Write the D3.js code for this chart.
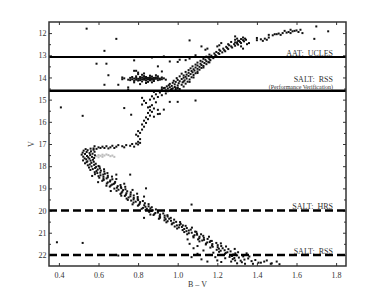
<!DOCTYPE html>
<html>
<head>
<meta charset="utf-8">
<script src="https://cdn.jsdelivr.net/npm/d3@7/dist/d3.min.js"></script>
<style>
  html, body { margin: 0; padding: 0; background: #fff; }
  svg { display: block; }
  text { font-family: "Liberation Serif", "Times New Roman", serif; fill: #333; }
</style>
</head>
<body>
<svg id="chart" width="382" height="300"></svg>
<script>
// ---------- data ----------
const xTicks = [0.4, 0.6, 0.8, 1.0, 1.2, 1.4, 1.6, 1.8];
const yTicks = [12, 13, 14, 15, 16, 17, 18, 19, 20, 21, 22];
const yMinorTicks = [12.5, 13.5, 14.5, 15.5, 16.5, 17.5, 18.5, 19.5, 20.5, 21.5];

const solidLimits = [13.08, 14.6];
const dashedLimits = [20.0, 22.0];

const limitLabels = [
  { text: "AAT:  UCLES", v: 13.08, size: 8, dy: -1.5 },
  { text: "SALT:  RSS", v: 14.6, size: 8, dy: -8.5 },
  { text: "(Performance Verification)", v: 14.6, size: 6, dy: -1.8 },
  { text: "SALT:  HRS", v: 20.0, size: 8, dy: -1.5 },
  { text: "SALT:  RSS", v: 22.0, size: 8, dy: -1 }
];

// main sequence (B-V, V)
const msStars = [
[0.56,17.21],[0.535,17.23],[0.575,17.26],[0.545,17.28],[0.525,17.3],[0.562,17.33],[0.58,17.35],[0.54,17.36],[0.52,17.39],[0.555,17.41],[0.57,17.44],[0.532,17.45],[0.515,17.48],[0.558,17.5],[0.582,17.51],[0.542,17.54],[0.523,17.57],[0.567,17.58],[0.548,17.6],[0.578,17.63],[0.53,17.65],[0.554,17.66],[0.538,17.69],[0.572,17.71],[0.522,17.74],[0.56,17.75],[0.544,17.78],[0.576,17.8],[0.54,17.82],[0.564,17.85],[0.532,17.87],[0.586,17.89],[0.556,17.92],[0.578,17.94],[0.546,17.96],[0.6,17.99],
[0.565,18.01],[0.588,18.03],[0.552,18.06],[0.583,18.08],[0.607,18.1],[0.571,18.13],[0.596,18.15],[0.559,18.17],[0.612,18.2],[0.59,18.22],[0.629,18.24],[0.581,18.27],[0.609,18.29],[0.594,18.31],[0.632,18.34],[0.582,18.36],[0.624,18.38],[0.61,18.41],[0.647,18.43],[0.6,18.45],[0.625,18.48],[0.647,18.5],[0.604,18.52],[0.641,18.55],[0.625,18.57],[0.67,18.59],[0.626,18.62],[0.66,18.64],[0.619,18.66],[0.658,18.69],[0.684,18.71],[0.647,18.73],[0.682,18.76],[0.642,18.78],[0.677,18.8],[0.669,18.83],[0.711,18.85],[0.662,18.87],[0.697,18.9],[0.657,18.92],[0.713,18.94],[0.693,18.97],[0.715,18.99],
[0.68,19.01],[0.736,19.04],[0.701,19.06],[0.724,19.08],[0.691,19.11],[0.745,19.13],[0.72,19.15],[0.763,19.18],[0.716,19.2],[0.741,19.22],[0.711,19.25],[0.762,19.27],[0.738,19.29],[0.778,19.32],[0.733,19.34],[0.761,19.36],[0.798,19.39],[0.752,19.41],[0.778,19.43],[0.742,19.46],[0.798,19.48],[0.777,19.5],[0.8,19.53],[0.765,19.55],[0.824,19.57],[0.788,19.6],[0.81,19.62],[0.777,19.64],[0.834,19.67],[0.808,19.69],[0.853,19.71],[0.804,19.74],[0.831,19.76],[0.799,19.78],[0.853,19.81],[0.837,19.83],[0.869,19.85],[0.825,19.88],[0.862,19.9],[0.844,19.92],[0.89,19.95],[0.838,19.97],[0.874,19.99],
[0.866,20.02],[0.9,20.04],[0.856,20.06],[0.9,20.09],[0.887,20.11],[0.927,20.13],[0.882,20.16],[0.911,20.18],[0.878,20.2],[0.934,20.23],[0.909,20.25],[0.949,20.27],[0.911,20.3],[0.934,20.32],[0.909,20.34],[0.957,20.37],[0.939,20.39],[0.982,20.41],[0.933,20.44],[0.966,20.46],[0.949,20.48],[0.992,20.51],[0.943,20.53],[0.98,20.55],[0.973,20.58],[1.015,20.6],[0.97,20.62],[1.009,20.65],[0.996,20.67],[1.04,20.69],[0.985,20.72],[1.021,20.74],[1.006,20.76],[1.046,20.79],[0.997,20.81],[1.033,20.83],[1.066,20.86],[1.025,20.88],[1.056,20.9],[1.044,20.93],[1.088,20.95],[1.033,20.97],
[1.071,21.0],[1.056,21.02],[1.097,21.04],[1.048,21.07],[1.098,21.09],[1.085,21.11],[1.129,21.14],[1.079,21.16],[1.11,21.18],[1.08,21.21],[1.132,21.23],[1.109,21.25],[1.151,21.28],[1.103,21.3],[1.133,21.32],[1.124,21.35],[1.166,21.37],[1.11,21.39],[1.162,21.42],[1.149,21.44],[1.195,21.46],[1.143,21.49],[1.175,21.51],[1.142,21.53],[1.202,21.56],[1.173,21.58],[1.22,21.6],[1.177,21.63],[1.202,21.65],[1.165,21.67],[1.227,21.7],[1.208,21.72],[1.256,21.74],[1.197,21.77],[1.237,21.79],[1.217,21.81],[1.267,21.84],[1.209,21.86],[1.251,21.88],[1.243,21.91],[1.291,21.93],[1.239,21.95],[1.281,21.98],
[1.23,22.0],[1.3,22.02],[1.274,22.05],[1.331,22.07],[1.262,22.09],[1.309,22.12],[1.286,22.14],[1.356,22.16],[1.278,22.19],[1.337,22.21],[1.392,22.23],[1.318,22.26],[1.373,22.28],[1.437,22.3],[1.324,22.33],[1.408,22.35],[1.475,22.38],[1.38,22.4],[1.514,22.42]
];

// main-sequence scatter
const msSpread = [
[0.605,18.02],[0.628,18.14],[0.645,18.31],[0.668,18.47],[0.69,18.58],[0.73,18.79],[0.735,18.93],[0.772,19.07],[0.795,19.24],[0.83,19.37],[0.568,18.44],[0.598,18.72],[0.64,18.88],[0.662,19.12],[0.715,19.33],[0.748,19.52],[0.772,19.72],[0.818,19.92],[0.862,20.18],[0.905,20.37],[0.948,20.21],[0.965,20.33],[1.012,20.52],[1.026,20.67],[1.072,20.77],[1.094,20.96],[1.118,21.07],[1.158,21.18],[1.172,21.37],[1.218,21.48],[1.244,21.62],[1.288,21.73],[1.305,21.88],[1.348,21.93],[1.362,22.07],[1.05,21.3],[1.06,21.5],[1.08,21.7],[1.07,22.1],[1.1,21.95],[1.12,22.2],[1.15,22.3],[1.2,22.25],[1.1,21.6],[1.13,21.8],[1.16,22.0],[1.19,22.1],[1.22,22.32],[1.27,22.3],[1.3,22.38],[1.24,22.15],[1.18,21.9],[1.45,22.25],[1.47,22.4],[1.34,22.4],[1.42,22.35],[1.5,22.3],[1.29,22.25]
];

// subgiant + lower red giant branch
const rgbStars = [
[0.575,17.2],[0.58,17.1],[0.59,17.22],[0.6,17.15],[0.61,17.18],[0.62,17.12],[0.63,17.18],[0.64,17.1],[0.65,17.2],[0.66,17.15],[0.67,17.08],[0.68,17.18],[0.69,17.12],[0.7,17.05],[0.72,17.1],[0.73,17.15],[0.74,17.05],[0.76,17.08],[0.77,17.0],[0.78,17.12],[0.79,16.98],[0.8,17.02],[0.81,16.95],
[0.8,16.9],[0.81,16.78],[0.8,16.65],[0.79,16.58],[0.81,16.5],[0.8,16.42],[0.82,16.35],[0.83,16.22],[0.82,16.12],[0.84,16.05],[0.83,15.95],[0.85,15.88],[0.84,15.8],[0.88,15.77],[0.86,15.72],[0.9,15.65],[0.91,15.64],[0.85,15.6],[0.87,15.55],[0.86,15.48],[0.9,15.46],[0.93,15.45],[0.88,15.4],[0.85,15.35],[0.86,15.32],[0.87,15.25],[0.82,15.22],[0.84,15.15],[0.89,15.12],[0.96,15.1],[1.0,15.1],[1.09,15.04],[0.83,15.05],[0.86,15.0],[0.88,14.95],[0.82,14.92],[0.9,14.88],[0.87,14.85],[0.92,14.8],[0.89,14.76],[0.94,14.72],[0.91,14.68],[0.88,14.65],[0.95,14.62]
];

// upper red giant branch
const urgbStars = [
[0.94,14.58],[0.99,14.56],[0.965,14.55],[0.92,14.53],[1.01,14.52],[0.95,14.5],[0.975,14.49],[0.935,14.47],[1.0,14.46],[0.96,14.44],[0.985,14.43],[1.03,14.41],[0.945,14.4],[0.97,14.38],[1.0,14.36],[0.955,14.35],[1.02,14.33],[0.985,14.31],[0.96,14.29],[1.04,14.28],[1.005,14.26],[0.975,14.24],[1.025,14.22],[0.99,14.2],[1.05,14.19],[1.01,14.17],[0.98,14.15],[1.035,14.13],[1.0,14.11],[1.06,14.09],[1.02,14.07],[1.045,14.05],[0.995,14.03],[1.03,14.01],[1.07,13.99],[1.04,13.97],[1.01,13.95],[1.055,13.93],[1.03,13.91],[1.08,13.89],[1.045,13.87],[1.065,13.85],[1.02,13.83],[1.09,13.81],[1.055,13.79],[1.075,13.77],[1.04,13.75],[1.1,13.73],[1.07,13.71],[1.085,13.69],[1.055,13.67],[1.11,13.65],[1.08,13.63],[1.1,13.61],[1.065,13.59],[1.12,13.57],[1.09,13.55],[1.11,13.52],[1.075,13.5],[1.13,13.48],[1.1,13.46],[1.12,13.44],[1.09,13.42],[1.145,13.4],[1.115,13.38],[1.135,13.35],[1.1,13.33],[1.155,13.31],[1.125,13.29],[1.145,13.27],[1.115,13.25],[1.165,13.22],[1.14,13.2],[1.16,13.18],[1.13,13.16],[1.18,13.13],[1.155,13.11],[1.175,13.09],[1.145,13.06],[1.195,13.04],[1.17,13.02],[1.19,12.99],[1.16,12.97],[1.21,12.94],[1.185,12.92],[1.205,12.9],[1.225,12.87],[1.195,12.85],[1.24,12.82],[1.215,12.8],[1.235,12.77],[1.21,12.75],[1.255,12.72],[1.23,12.7],[1.25,12.67],[1.275,12.65],[1.245,12.62],[1.27,12.6],[1.29,12.57],[1.26,12.55],[1.305,12.52],[1.285,12.5],[1.3,12.47],[1.32,12.45],[1.29,12.42],[1.315,12.4],[1.335,12.37],[1.305,12.35],[1.33,12.32],[1.345,12.3],[1.32,12.27],[1.34,12.25],[1.33,12.2],[1.29,12.15],
[0.93,14.48],[0.97,14.52],[0.99,14.48],[1.0,14.5],[0.92,14.45],[1.06,14.2],[1.08,14.0],[1.03,14.18],[1.1,13.8],[1.13,13.55],[1.16,13.32],
[1.35,12.5],[1.36,12.45],[1.4,12.32],[1.42,12.28],[1.44,12.25],[1.43,12.35],[1.46,12.2],[1.48,12.1],[1.5,12.05],[1.52,12.08],[1.53,12.0],[1.55,11.98],[1.57,12.0],[1.58,11.92],[1.6,11.88],[1.61,11.95],[1.62,11.85],[1.63,12.0],[1.57,11.85],[1.54,11.9],
[1.3,12.25],[1.31,12.35],[1.32,12.6],[1.33,12.7],[1.4,12.22],[1.45,12.3],[1.46,12.08],[1.49,12.05],[1.51,12.02],[1.56,11.95],[1.59,11.9]
];

// asymptotic giant branch / bright scatter
const agbStars = [
[1.06,12.33],[1.09,13.0],[1.12,12.6],[1.14,12.75],[1.15,12.7],[1.2,12.6],[1.22,12.45],[1.21,12.55],[1.255,12.5],[1.27,12.4],[1.29,12.3],[1.3,12.42],[1.01,13.2],[1.04,13.22],[1.06,13.15],[1.0,13.3],[0.96,13.28],[0.93,13.05],[0.87,13.1],[0.9,13.5],[0.92,13.73],[0.78,13.23],[0.79,13.7],[0.78,13.7],[1.7,11.7],[1.76,11.92],[1.69,12.26]
];

// red clump
const clumpStars = [
[0.72,14.0],[0.72,14.08],[0.73,14.04],[0.75,14.1],[0.76,14.02],[0.76,14.12],[0.77,13.98],[0.77,14.08],[0.78,14.05],[0.78,14.15],[0.79,13.95],[0.79,14.02],[0.79,14.1],[0.8,14.06],[0.8,14.14],[0.81,13.98],[0.81,14.04],[0.81,14.12],[0.82,14.0],[0.82,14.08],[0.82,14.18],[0.83,13.94],[0.83,14.03],[0.83,14.1],[0.84,14.06],[0.84,14.14],[0.84,13.98],[0.85,14.02],[0.85,14.09],[0.85,14.2],[0.86,13.92],[0.86,14.0],[0.86,14.07],[0.86,14.13],[0.87,14.04],[0.87,14.1],[0.87,13.96],[0.88,14.02],[0.88,14.08],[0.88,14.16],[0.89,13.9],[0.89,14.0],[0.89,14.06],[0.9,14.03],[0.9,14.12],[0.9,13.95],[0.91,14.05],[0.91,14.1],[0.92,14.0],[0.92,14.08],[0.93,14.04],[0.94,14.1],[0.8,13.85],[0.82,13.88],[0.84,14.25],[0.87,14.22],[0.78,14.22],[0.81,14.3],[0.8,13.78],[0.83,13.82]
];

// field stars
const fieldStars = [
[0.54,11.8],[0.69,12.26],[0.63,12.8],[0.59,13.38],[0.64,13.38],[0.65,13.9],[0.63,14.33],[0.70,14.33],[0.75,14.45],[0.75,14.55],[0.41,15.35],[0.52,15.73],[0.73,15.38],[0.765,15.68],[0.39,21.43],[0.52,21.46],[0.69,18.38],[0.76,18.38],[0.84,19.0],[0.69,22.0],[0.7,22.03],[0.83,20.33],[1.07,19.73]
];

// light grey stars
const greyStars = [
[0.59,17.55],[0.6,17.5],[0.61,17.53],[0.62,17.48],[0.63,17.52],[0.64,17.47],[0.65,17.5],[0.66,17.55],[0.67,17.52],[0.68,17.58],[0.6,17.6],[0.62,17.58]
];

// ---------- chart ----------
const svg = d3.select("#chart");
const mL = 49, mR = 346, mT = 22, mB = 266;

const x = d3.scaleLinear().domain([0.35, 1.85]).range([mL, mR]);
const y = d3.scaleLinear().domain([11.5, 22.5]).range([mT, mB]);

const fmtX = d3.format(".1f");

const axB = d3.axisBottom(x).tickValues(xTicks).tickFormat(fmtX).tickSizeInner(-3).tickSizeOuter(0).tickPadding(6);
const axT = d3.axisTop(x).tickValues(xTicks).tickFormat("").tickSizeInner(-3).tickSizeOuter(0);
const axL = d3.axisLeft(y).tickValues(yTicks).tickFormat(d3.format("d")).tickSizeInner(-3).tickSizeOuter(0).tickPadding(2.5);
const axR = d3.axisRight(y).tickValues(yTicks).tickFormat("").tickSizeInner(-3).tickSizeOuter(0);
const axLm = d3.axisLeft(y).tickValues(yMinorTicks).tickFormat("").tickSizeInner(-2).tickSizeOuter(0);
const axRm = d3.axisRight(y).tickValues(yMinorTicks).tickFormat("").tickSizeInner(-2).tickSizeOuter(0);

function styleAxis(g) {
  g.select(".domain").remove();
  g.selectAll(".tick line").attr("stroke", "#333").attr("stroke-width", 1);
  g.selectAll(".tick text").attr("font-family", "Liberation Serif, serif").attr("font-size", 8).attr("fill", "#444");
}

svg.append("g").attr("transform", `translate(0,${mB})`).call(axB).call(styleAxis);
svg.append("g").attr("transform", `translate(0,${mT})`).call(axT).call(styleAxis);
svg.append("g").attr("transform", `translate(${mL},0)`).call(axL).call(styleAxis);
svg.append("g").attr("transform", `translate(${mR},0)`).call(axR).call(styleAxis);
svg.append("g").attr("transform", `translate(${mL},0)`).call(axLm).call(styleAxis);
svg.append("g").attr("transform", `translate(${mR},0)`).call(axRm).call(styleAxis);

function drawStars(data, color) {
  svg.append("g").selectAll("rect").data(data).join("rect")
    .attr("x", d => x(d[0]) - 1)
    .attr("y", d => y(d[1]) - 1)
    .attr("width", 2).attr("height", 2)
    .attr("fill", color);
}
drawStars(greyStars, "#bdbdbd");
drawStars(msStars, "#111");
drawStars(msSpread, "#111");
drawStars(rgbStars, "#111");
drawStars(urgbStars, "#111");
drawStars(agbStars, "#111");
drawStars(clumpStars, "#111");
drawStars(fieldStars, "#111");

svg.append("g").selectAll("line").data(solidLimits).join("line")
  .attr("x1", mL).attr("x2", mR)
  .attr("y1", d => y(d)).attr("y2", d => y(d))
  .attr("stroke", "#000").attr("stroke-width", (d, i) => i === 0 ? 2 : 2.5);

svg.append("g").selectAll("line").data(dashedLimits).join("line")
  .attr("x1", mL).attr("x2", mR)
  .attr("y1", d => y(d)).attr("y2", d => y(d))
  .attr("stroke", "#000").attr("stroke-width", 2.5)
  .attr("stroke-dasharray", "8,4");

svg.append("g").selectAll("text").data(limitLabels).join("text")
  .attr("x", 333)
  .attr("y", d => y(d.v) + d.dy)
  .attr("text-anchor", "end")
  .attr("font-size", d => d.size)
  .attr("fill", "#333")
  .style("white-space", "pre")
  .text(d => d.text);

svg.append("rect")
  .attr("x", mL).attr("y", mT)
  .attr("width", mR - mL).attr("height", mB - mT)
  .attr("fill", "none").attr("stroke", "#333").attr("stroke-width", 1.5);

svg.append("text")
  .attr("x", (mL + mR) / 2).attr("y", 287)
  .attr("text-anchor", "middle").attr("font-size", 8).attr("fill", "#333")
  .text("B – V");

svg.append("text")
  .attr("transform", `translate(34,${(mT + mB) / 2}) rotate(-90)`)
  .attr("text-anchor", "middle").attr("font-size", 8).attr("fill", "#333")
  .text("V");
</script>
</body>
</html>
